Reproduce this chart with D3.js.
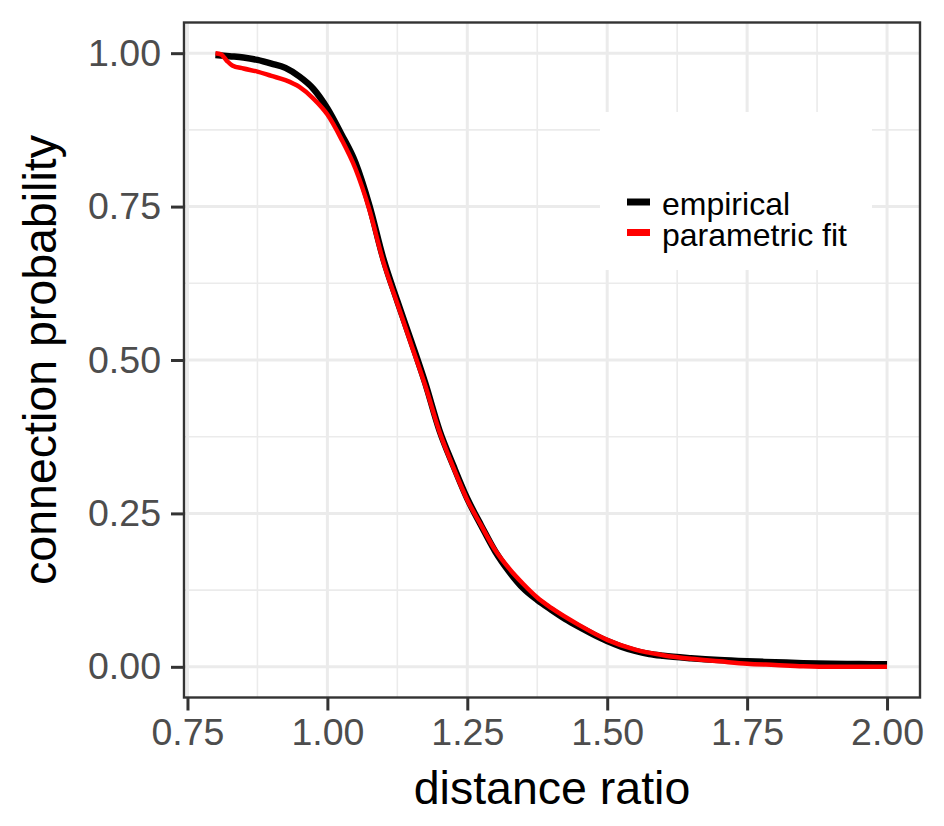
<!DOCTYPE html>
<html>
<head>
<meta charset="utf-8">
<script src="https://cdn.jsdelivr.net/npm/d3@7"></script>
<style>
  html, body { margin: 0; padding: 0; background: #fff; }
  svg { display: block; font-family: "Liberation Sans", Arial, sans-serif; }
</style>
</head>
<body>
<svg id="chart" width="944" height="826"></svg>
<script>
// ---- data ----
const empX = [0.80, 0.825, 0.85, 0.875, 0.90, 0.925, 0.95, 0.975, 1.00, 1.025, 1.05, 1.075, 1.10, 1.125, 1.15, 1.175, 1.20, 1.225, 1.25, 1.275, 1.30, 1.325, 1.35, 1.375, 1.40, 1.425, 1.45, 1.475, 1.50, 1.525, 1.55, 1.575, 1.60, 1.65, 1.70, 1.75, 1.80, 1.85, 1.90, 1.95, 2.00];
const empY = [0.997, 0.995, 0.993, 0.989, 0.983, 0.976, 0.962, 0.942, 0.910, 0.868, 0.822, 0.752, 0.665, 0.596, 0.530, 0.462, 0.386, 0.328, 0.274, 0.230, 0.188, 0.155, 0.128, 0.109, 0.093, 0.078, 0.065, 0.053, 0.042, 0.033, 0.026, 0.021, 0.018, 0.014, 0.011, 0.009, 0.0075, 0.006, 0.005, 0.0045, 0.004];

const fitX = [0.80, 0.81, 0.82, 0.83, 0.85, 0.875, 0.90, 0.925, 0.95, 0.975, 1.00, 1.025, 1.05, 1.075, 1.10, 1.125, 1.15, 1.175, 1.20, 1.225, 1.25, 1.275, 1.30, 1.325, 1.35, 1.375, 1.40, 1.45, 1.50, 1.55, 1.60, 1.65, 1.70, 1.75, 1.80, 1.85, 1.90, 2.00];
const fitY = [1.000, 0.998, 0.988, 0.980, 0.975, 0.970, 0.963, 0.956, 0.945, 0.926, 0.900, 0.860, 0.812, 0.745, 0.660, 0.592, 0.525, 0.458, 0.384, 0.325, 0.272, 0.230, 0.190, 0.160, 0.135, 0.113, 0.096, 0.068, 0.044, 0.028, 0.019, 0.013, 0.009, 0.005, 0.003, 0.001, 0.000, 0.000];

const xTicks = [0.75, 1.00, 1.25, 1.50, 1.75, 2.00];
const xMinor = [0.875, 1.125, 1.375, 1.625, 1.875];
const yTicks = [0.00, 0.25, 0.50, 0.75, 1.00];
const yMinor = [0.125, 0.375, 0.625, 0.875];

const seriesNames = ["empirical", "parametric fit"];
const seriesColors = ["#000000", "#FF0000"];

// ---- layout ----
const svg = d3.select("#chart");
const x = d3.scaleLinear().domain([0.7438, 2.0589]).range([184, 920]);
const y = d3.scaleLinear().domain([-0.05, 1.05]).range([697.5, 22.5]);
const [x0, x1] = x.range();
const [yb, yt] = y.range();

// panel background
svg.append("rect").attr("x", x0).attr("y", yt).attr("width", x1 - x0).attr("height", yb - yt).attr("fill", "#fff");

// grid
const grid = svg.append("g");
grid.selectAll(".vmin").data(xMinor).join("line")
  .attr("x1", d => x(d)).attr("x2", d => x(d)).attr("y1", yt).attr("y2", yb)
  .attr("stroke", "#EBEBEB").attr("stroke-width", 1.6);
grid.selectAll(".hmin").data(yMinor).join("line")
  .attr("y1", d => y(d)).attr("y2", d => y(d)).attr("x1", x0).attr("x2", x1)
  .attr("stroke", "#EBEBEB").attr("stroke-width", 1.6);
grid.selectAll(".vmaj").data(xTicks).join("line")
  .attr("x1", d => x(d)).attr("x2", d => x(d)).attr("y1", yt).attr("y2", yb)
  .attr("stroke", "#EBEBEB").attr("stroke-width", 3);
grid.selectAll(".hmaj").data(yTicks).join("line")
  .attr("y1", d => y(d)).attr("y2", d => y(d)).attr("x1", x0).attr("x2", x1)
  .attr("stroke", "#EBEBEB").attr("stroke-width", 3);

// lines
const line = d3.line().x(d => x(d[0])).y(d => y(d[1])).curve(d3.curveMonotoneX);
const emp = empX.map((v, i) => [v, empY[i]]);
const fit = fitX.map((v, i) => [v, fitY[i]]);
svg.append("path").datum(emp).attr("d", line).attr("fill", "none")
  .attr("stroke", seriesColors[0]).attr("stroke-width", 6.5).attr("stroke-linejoin", "round");
svg.append("path").datum(fit).attr("d", line).attr("fill", "none")
  .attr("stroke", seriesColors[1]).attr("stroke-width", 4.5).attr("stroke-linejoin", "round");

// legend
const lg = svg.append("g");
lg.append("rect").attr("x", 600).attr("y", 112).attr("width", 272).attr("height", 158).attr("fill", "#fff");
seriesNames.forEach((name, i) => {
  const cy = 202 + i * 30.5;
  lg.append("line").attr("x1", 627).attr("x2", 650).attr("y1", cy).attr("y2", cy)
    .attr("stroke", seriesColors[i]).attr("stroke-width", 7);
  lg.append("text").attr("x", 662).attr("y", cy + 13).text(name)
    .attr("font-size", 32).attr("fill", "#000");
});

// panel border
svg.append("rect").attr("x", x0).attr("y", yt).attr("width", x1 - x0).attr("height", yb - yt)
  .attr("fill", "none").attr("stroke", "#333333").attr("stroke-width", 2.4);

// axes
const xAxis = svg.append("g").attr("transform", `translate(0,${yb})`)
  .call(d3.axisBottom(x).tickValues(xTicks).tickFormat(d3.format(".2f")).tickSize(13).tickSizeOuter(0).tickPadding(8));
const yAxis = svg.append("g").attr("transform", `translate(${x0},0)`)
  .call(d3.axisLeft(y).tickValues(yTicks).tickFormat(d3.format(".2f")).tickSize(13).tickSizeOuter(0).tickPadding(10));
[xAxis, yAxis].forEach(a => {
  a.select(".domain").remove();
  a.selectAll(".tick line").attr("stroke", "#333333").attr("stroke-width", 3);
  a.selectAll(".tick text").attr("fill", "#4D4D4D").attr("font-size", 37.5)
    .attr("font-family", "'Liberation Sans', Arial, sans-serif");
});

// titles
svg.append("text").attr("x", (x0 + x1) / 2).attr("y", 804).attr("text-anchor", "middle")
  .attr("font-size", 46.5).attr("fill", "#000").text("distance ratio");
svg.append("text").attr("transform", `translate(56,${(yt + yb) / 2}) rotate(-90)`).attr("text-anchor", "middle")
  .attr("font-size", 46.5).attr("fill", "#000").text("connection probability");
</script>
</body>
</html>
